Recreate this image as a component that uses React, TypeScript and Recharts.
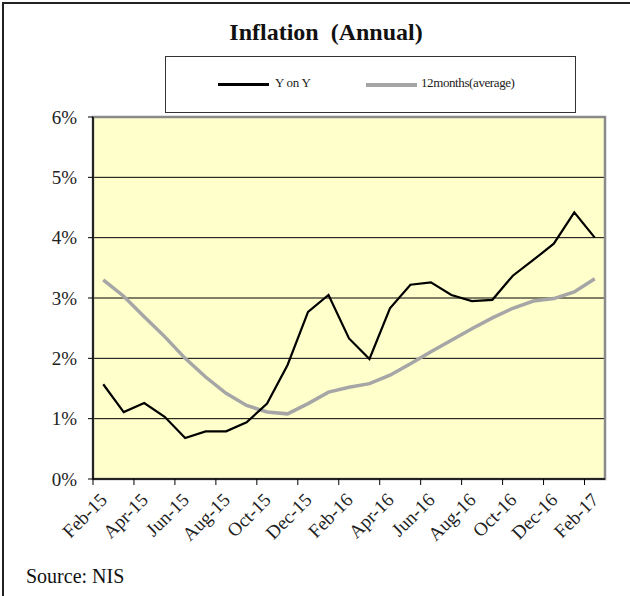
import React from 'react';
import { LineChart, Line, XAxis, YAxis, CartesianGrid, Legend, ReferenceArea } from 'recharts';

const months = [
  'Feb-15','Mar-15','Apr-15','May-15','Jun-15','Jul-15','Aug-15','Sep-15','Oct-15','Nov-15','Dec-15','Jan-16',
  'Feb-16','Mar-16','Apr-16','May-16','Jun-16','Jul-16','Aug-16','Sep-16','Oct-16','Nov-16','Dec-16','Jan-17','Feb-17',
];
const yOnY = [
  1.57, 1.11, 1.26, 1.03, 0.68, 0.79, 0.79, 0.94, 1.25, 1.89, 2.77, 3.05,
  2.33, 1.99, 2.83, 3.22, 3.26, 3.05, 2.95, 2.97, 3.37, 3.63, 3.90, 4.42, 4.00,
];
const avg12 = [
  3.30, 3.03, 2.69, 2.36, 2.00, 1.69, 1.42, 1.22, 1.11, 1.08, 1.25, 1.44,
  1.52, 1.58, 1.72, 1.91, 2.11, 2.30, 2.49, 2.67, 2.83, 2.95, 2.99, 3.10, 3.32,
];
const yTicks = [0, 1, 2, 3, 4, 5, 6];
const seriesNames = { yoy: 'Y on Y', avg: '12months(average)' };
const title = 'Inflation\u00a0\u00a0(Annual)';
const source = 'Source: NIS';

const data = months.map((m, i) => ({ month: m, yoy: yOnY[i], avg: avg12[i] }));

const FONT = '"Liberation Serif", "Times New Roman", serif';

const XTick = (props: any) => {
  const { x, y, payload } = props;
  const off = payload && typeof payload.offset === 'number' ? payload.offset : 10.24;
  return (
    <g>
      <line x1={x - off} y1={y - 8} x2={x - off} y2={y - 2} stroke="#000" strokeWidth={1} />
      <text
        x={x + 5}
        y={y + 14}
        textAnchor="end"
        transform={`rotate(-45, ${x + 5}, ${y + 14})`}
        fontFamily={FONT}
        fontSize={19}
        fill="#222"
      >
        {payload.value}
      </text>
    </g>
  );
};

const renderLegend = () => (
  <div
    style={{
      position: 'relative',
      width: '100%',
      height: '100%',
      boxSizing: 'border-box',
      border: '1.5px solid #333',
      background: '#fff',
      fontFamily: FONT,
      fontSize: 13,
      color: '#222',
      whiteSpace: 'nowrap',
    }}
  >
    <div style={{ position: 'absolute', left: 52, top: 26, width: 51, height: 3, background: '#000' }} />
    <span style={{ position: 'absolute', left: 109, top: 18, lineHeight: '16px', letterSpacing: -0.3 }}>{seriesNames.yoy}</span>
    <div style={{ position: 'absolute', left: 200, top: 25.5, width: 51, height: 4, background: '#A6A6A6' }} />
    <span style={{ position: 'absolute', left: 255, top: 18, lineHeight: '16px', letterSpacing: -0.4 }}>{seriesNames.avg}</span>
  </div>
);

export default function App() {
  return (
    <div style={{ position: 'absolute', left: 0, top: 0, width: 630, height: 596, overflow: 'hidden', background: '#fff' }}>
      <div
        style={{
          position: 'absolute', left: 2, top: 2, width: 660, height: 640,
          border: '2px solid #222', boxSizing: 'border-box',
        }}
      />
      <div
        style={{
          position: 'absolute', left: 0, top: 17, width: 652, textAlign: 'center',
          fontFamily: FONT, fontWeight: 'bold', fontSize: 24, color: '#111', lineHeight: '30px',
        }}
      >
        {title}
      </div>
      <div style={{ position: 'absolute', left: 0, top: 0 }}>
        <LineChart
          width={630}
          height={596}
          data={data}
          margin={{ top: 117, right: 25, bottom: 47, left: 33 }}
        >
          <CartesianGrid vertical={false} stroke="#000" strokeWidth={1} fill="#FFFFCC" />
          <ReferenceArea y1={0} y2={6} fill="none" stroke="#8a8a8a" strokeWidth={2.5} ifOverflow="visible" />
          <XAxis
            dataKey="month"
            scale="band"
            interval={1}
            axisLine={{ stroke: '#000', strokeWidth: 1.5 }}
            tickLine={false}
            height={70}
            tick={<XTick />}
          />
          <YAxis
            domain={[0, 6]}
            ticks={yTicks}
            width={60}
            tickFormatter={(v: number) => `${v}%`}
            axisLine={{ stroke: '#000', strokeWidth: 1.5 }}
            tickLine={{ stroke: '#000' }}
            tickSize={5}
            tickMargin={11}
            tick={{ fontFamily: FONT, fontSize: 19, fill: '#222' }}
          />
          <Legend
            layout="horizontal"
            verticalAlign="middle"
            align="center"
            content={renderLegend}
            wrapperStyle={{ position: 'absolute', left: 165, top: 56, width: 411, height: 57 }}
          />
          <Line
            type="linear"
            dataKey="avg"
            name={seriesNames.avg}
            stroke="#A6A6A6"
            strokeWidth={3.5}
            dot={false}
            isAnimationActive={false}
          />
          <Line
            type="linear"
            dataKey="yoy"
            name={seriesNames.yoy}
            stroke="#000"
            strokeWidth={2.2}
            dot={false}
            isAnimationActive={false}
          />
        </LineChart>
      </div>
      <div
        style={{
          position: 'absolute', left: 26, top: 563, fontFamily: FONT, fontSize: 20, color: '#111', lineHeight: '26px',
        }}
      >
        {source}
      </div>
    </div>
  );
}
